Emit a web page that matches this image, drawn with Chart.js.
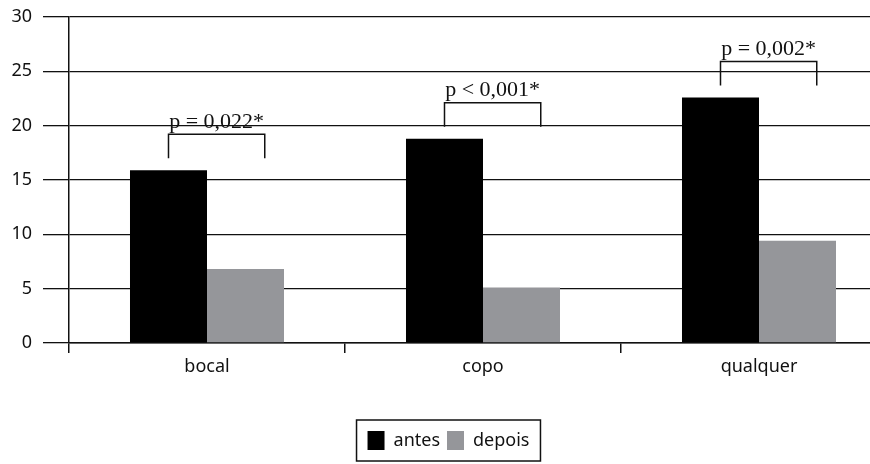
<!DOCTYPE html>
<html>
<head>
<meta charset="utf-8">
<title>antes / depois</title>
<style>
  html, body { margin: 0; padding: 0; background: #fff; overflow: hidden; }
  body { width: 870px; height: 464px; }
  canvas { display: block; }
</style>
</head>
<body>
<canvas id="chart" width="900" height="464"></canvas>
<script src="https://cdn.jsdelivr.net/npm/chart.js"></script>
<script>
const categories = ['bocal', 'copo', 'qualquer'];
const antes = [15.9, 18.8, 22.6];
const depois = [6.8, 5.1, 9.4];
const pValues = ['p = 0,022*', 'p < 0,001*', 'p = 0,002*'];

const sans = "'Noto Sans', sans-serif";
const ink = '#111';

// bracket + p value above each pair of bars
const brackets = {
  id: 'brackets',
  afterDatasetsDraw(chart) {
    const ctx = chart.ctx;
    const a = chart.getDatasetMeta(0).data;
    const d = chart.getDatasetMeta(1).data;
    ctx.save();
    ctx.strokeStyle = ink;
    ctx.lineWidth = 1.5;
    ctx.fillStyle = ink;
    ctx.font = "22px 'Liberation Serif', serif";
    ctx.textAlign = 'center';
    pValues.forEach((txt, i) => {
      const left = a[i].x;
      const right = d[i].x + d[i].width / 4;
      const bottom = a[i].y - 12;
      const top = bottom - 24;
      ctx.beginPath();
      ctx.moveTo(left, bottom);
      ctx.lineTo(left, top);
      ctx.lineTo(right, top);
      ctx.lineTo(right, bottom);
      ctx.stroke();
      ctx.fillText(txt, (left + right) / 2, top - 12);
    });
    ctx.restore();
  }
};

// frame round the legend
const legendFrame = {
  id: 'legendFrame',
  afterDraw(chart) {
    const hb = chart.legend.legendHitBoxes;
    if (!hb || !hb.length) return;
    const x1 = Math.min(...hb.map(h => h.left)) - 11;
    const x2 = Math.max(...hb.map(h => h.left + h.width)) + 11;
    const y1 = Math.min(...hb.map(h => h.top)) - 11;
    const y2 = Math.max(...hb.map(h => h.top + h.height)) + 11;
    const ctx = chart.ctx;
    ctx.save();
    ctx.strokeStyle = ink;
    ctx.lineWidth = 1.5;
    ctx.strokeRect(x1, y1, x2 - x1, y2 - y1);
    ctx.restore();
  }
};

new Chart(document.getElementById('chart'), {
  type: 'bar',
  data: {
    labels: categories,
    datasets: [
      { label: 'antes', data: antes, backgroundColor: '#000000' },
      { label: 'depois', data: depois, backgroundColor: '#95969a' }
    ]
  },
  options: {
    responsive: false,
    animation: false,
    layout: { padding: { top: 17, left: 0, right: 3, bottom: 4 } },
    datasets: { bar: { barPercentage: 1, categoryPercentage: 0.558 } },
    scales: {
      x: {
        grid: { drawOnChartArea: false, tickLength: 10, color: ink, lineWidth: 1.5 },
        border: { color: ink, width: 1.5 },
        ticks: { color: ink, font: { family: sans, size: 18 }, padding: 3 },
        afterFit: s => { s.height = 81; }
      },
      y: {
        min: 0,
        max: 30,
        ticks: { stepSize: 5, color: ink, font: { family: sans, size: 18 }, padding: 11 },
        grid: { color: ink, lineWidth: 1.3, tickLength: 26 },
        border: { color: ink, width: 1.5 },
        afterFit: s => { s.width = 69; s.paddingTop = 0; s.paddingBottom = 0; }
      }
    },
    plugins: {
      tooltip: { enabled: false },
      legend: {
        position: 'bottom',
        labels: {
          boxWidth: 17,
          boxHeight: 19,
          padding: 7,
          color: ink,
          font: { family: sans, size: 18 }
        }
      }
    }
  },
  plugins: [brackets, legendFrame]
});
</script>
</body>
</html>
